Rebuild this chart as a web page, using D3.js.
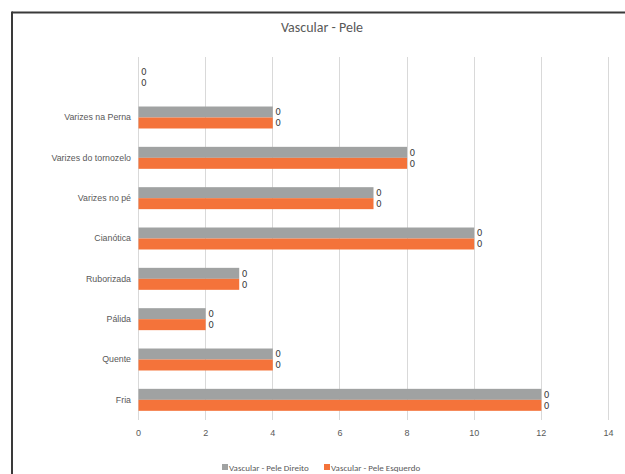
<!DOCTYPE html>
<html>
<head>
<meta charset="utf-8">
<script src="https://cdn.jsdelivr.net/npm/d3@7"></script>
<style>
  html, body { margin: 0; padding: 0; background: #fff; }
  svg { display: block; font-family: Calibri, Carlito, "Open Sans", "Liberation Sans", sans-serif; }
</style>
</head>
<body>
<svg id="chart" width="625" height="474"></svg>
<script>
// Categories listed top to bottom (first one is an empty row)
const categories = ["", "Varizes na Perna", "Varizes do tornozelo", "Varizes no pé", "Cianótica", "Ruborizada", "Pálida", "Quente", "Fria"];
const seriesNames = ["Vascular - Pele Direito", "Vascular - Pele Esquerdo"];
const valuesDireito = [0, 4, 8, 7, 10, 3, 2, 4, 12];
const valuesEsquerdo = [0, 4, 8, 7, 10, 3, 2, 4, 12];
// Data label text shown next to each bar
const labelsDireito = ["0", "0", "0", "0", "0", "0", "0", "0", "0"];
const labelsEsquerdo = ["0", "0", "0", "0", "0", "0", "0", "0", "0"];
const xTicks = [0, 2, 4, 6, 8, 10, 12, 14];

const colors = ["#A0A2A2", "#F4733A"];
const textColor = "#595959";

const svg = d3.select("#chart");

// Chart frame (top and left edges visible)
svg.append("line").attr("x1", 12).attr("x2", 625).attr("y1", 12.5).attr("y2", 12.5)
  .attr("stroke", "#3a3a3a").attr("stroke-width", 2);
svg.append("line").attr("x1", 12).attr("x2", 12).attr("y1", 11.5).attr("y2", 474)
  .attr("stroke", "#3a3a3a").attr("stroke-width", 2);

// Title
svg.append("text").attr("x", 322).attr("y", 32).attr("text-anchor", "middle")
  .attr("font-size", 14).attr("fill", textColor).text("Vascular - Pele");

const plot = { left: 138, right: 608, top: 57, bottom: 420 };

const x = d3.scaleLinear().domain([0, 14]).range([plot.left, plot.right]);
const y = d3.scaleBand().domain(categories).range([plot.top, plot.bottom]).paddingInner(0.455).paddingOuter(0.2275);
const inner = d3.scaleBand().domain([0, 1]).range([0, y.bandwidth()]);

// Vertical gridlines
svg.append("g").selectAll("line").data(xTicks).join("line")
  .attr("x1", d => Math.round(x(d)) + 0.5).attr("x2", d => Math.round(x(d)) + 0.5)
  .attr("y1", plot.top).attr("y2", plot.bottom)
  .attr("stroke", "#d9d9d9").attr("stroke-width", 1);

// X axis labels
const xAxis = d3.axisBottom(x).tickValues(xTicks).tickSize(0).tickPadding(8);
const gx = svg.append("g").attr("transform", `translate(0,${plot.bottom + 2})`).call(xAxis);
gx.select(".domain").remove();
gx.selectAll("text").attr("font-size", 9).attr("fill", textColor).attr("font-family", null);

// Y axis labels
const yAxis = d3.axisLeft(y).tickSize(0).tickPadding(7);
const gy = svg.append("g").attr("transform", `translate(${plot.left},0)`).call(yAxis);
gy.select(".domain").remove();
gy.selectAll("text").attr("font-size", 8.8).attr("fill", textColor).attr("font-family", null);

// Bars
const rows = categories.map((c, i) => ({
  cat: c,
  vals: [valuesDireito[i], valuesEsquerdo[i]],
  labels: [labelsDireito[i], labelsEsquerdo[i]]
}));

const groups = svg.append("g").selectAll("g").data(rows).join("g")
  .attr("transform", d => `translate(0,${y(d.cat)})`);

groups.selectAll("rect").data(d => d.vals.map((v, s) => ({ v, s }))).join("rect")
  .attr("x", x(0) + 0.5)
  .attr("y", d => inner(d.s))
  .attr("width", d => Math.max(0, x(d.v) - x(0)))
  .attr("height", inner.bandwidth())
  .attr("fill", d => colors[d.s]);

groups.selectAll("text").data(d => d.vals.map((v, s) => ({ v, s, t: d.labels[s] }))).join("text")
  .attr("x", d => x(d.v) + 3)
  .attr("y", d => inner(d.s) + inner.bandwidth() / 2)
  .attr("dy", "0.36em")
  .attr("font-size", 9)
  .attr("font-family", "'DejaVu Sans', sans-serif")
  .attr("fill", "#404040")
  .text(d => d.t);

// Legend
const legend = svg.append("g").attr("transform", "translate(222,468)");
const items = [
  { name: seriesNames[0], color: colors[0], dx: 0 },
  { name: seriesNames[1], color: colors[1], dx: 102 }
];
const li = legend.selectAll("g").data(items).join("g").attr("transform", d => `translate(${d.dx},0)`);
li.append("rect").attr("x", 0).attr("y", -4).attr("width", 6).attr("height", 6).attr("fill", d => d.color);
li.append("text").attr("x", 7).attr("y", 0).attr("dy", "0.35em").attr("font-size", 9)
  .attr("fill", textColor).text(d => d.name);
</script>
</body>
</html>
